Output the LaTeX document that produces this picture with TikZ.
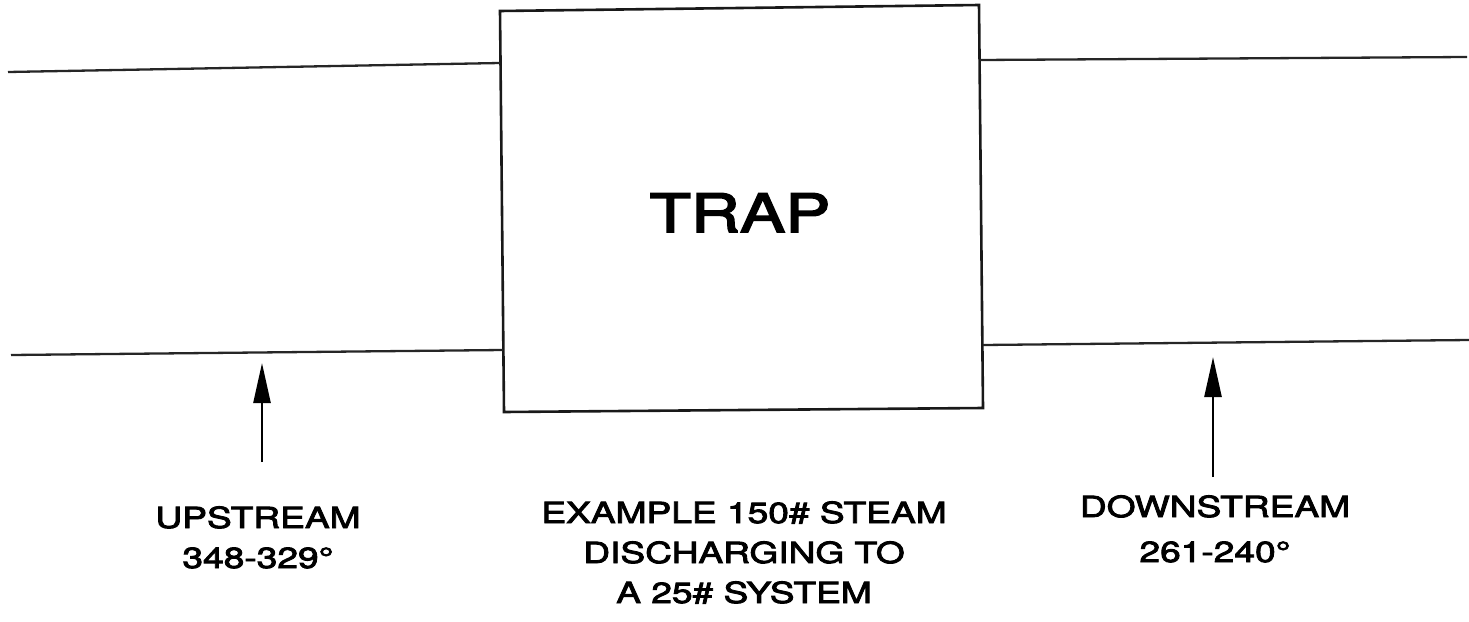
\documentclass[tikz,border=0pt]{standalone}
\usepackage{fontspec}
\setmainfont{TeX Gyre Heros}[FakeStretch=1.28,FakeBold=3]
\usetikzlibrary{arrows.meta}
\begin{document}
\begin{tikzpicture}[x=1pt,y=-1pt,
  pipe/.style={line width=2.3pt,black!85},
  boxline/.style={line width=2.6pt,black!90,line join=miter},
  pointer/.style={line width=2.5pt,-{Triangle[length=40pt,width=17pt]}},
  lbl/.style={anchor=base,inner sep=0pt,font=\fontsize{29}{39}\selectfont},
  big/.style={anchor=base,inner sep=0pt,font=\fontsize{53}{60}\selectfont}]
\useasboundingbox (0,0) rectangle (1469,621);
% box corners
\coordinate (tl) at (500,11);
\coordinate (tr) at (979,5);
\coordinate (br) at (983,408);
\coordinate (bl) at (504,412);
\draw[boxline] (tl) -- (tr) -- (br) -- (bl) -- cycle;
% pipes
\coordinate (ltA) at (8,72);   \coordinate (ltB) at (500,63);
\coordinate (lbA) at (11,355); \coordinate (lbB) at (503,350);
\coordinate (rtA) at (980,60); \coordinate (rtB) at (1467,57);
\coordinate (rbA) at (983,345);\coordinate (rbB) at (1469,340);
\draw[pipe] (ltA) -- (ltB);
\draw[pipe] (lbA) -- (lbB);
\draw[pipe] (rtA) -- (rtB);
\draw[pipe] (rbA) -- (rbB);
% arrows
\coordinate (uaS) at (262,462); \coordinate (uaT) at (262,363);
\coordinate (daS) at (1213,477); \coordinate (daT) at (1213,357);
\draw[pointer] (uaS) -- (uaT);
\draw[pointer] (daS) -- (daT);
% texts
\node[big] (trap) at (740,232) {TRAP};
\node[lbl] (up1) at (258,528) {UPSTREAM};
\node[lbl] (up2) at (258,568) {348-329°};
\node[lbl] (ex1) at (744,523) {EXAMPLE 150\# STEAM};
\node[lbl] (ex2) at (744,563) {DISCHARGING TO};
\node[lbl] (ex3) at (744,603) {A 25\# SYSTEM};
\node[lbl] (dn1) at (1215,517) {DOWNSTREAM};
\node[lbl] (dn2) at (1215,562) {261-240°};
\end{tikzpicture}
\end{document}
